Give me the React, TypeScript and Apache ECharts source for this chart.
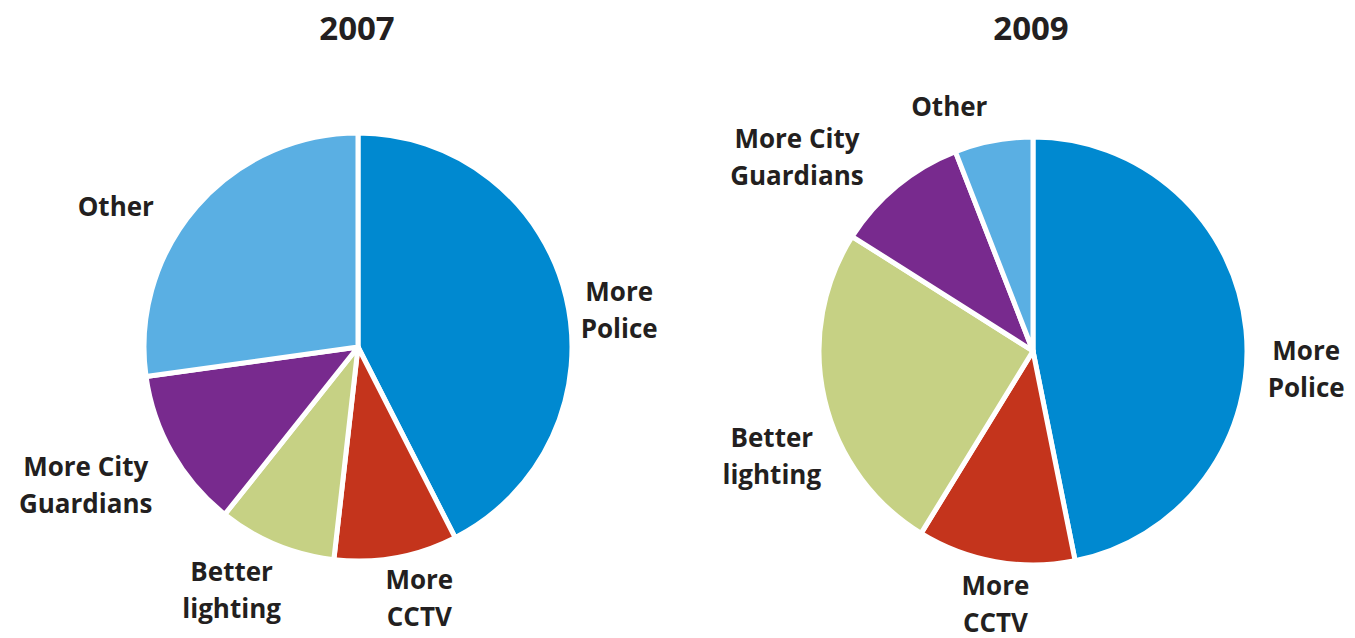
import React, { useEffect, useRef } from "react";
import * as echarts from "echarts";

const categories = ["More\nPolice", "More\nCCTV", "Better\nlighting", "More City\nGuardians", "Other"];
const colors = ["#0089d0", "#c4341c", "#c6d184", "#782a8e", "#5aafe3"];
const values2007 = [42.5, 9.3, 8.9, 12.1, 27.2];
const values2009 = [46.8, 11.9, 25.2, 10.1, 5.9];
const years = ["2007", "2009"];

// layout (pixels)
const centers = [[358, 347], [1033, 351]];
const radius = 214;
const labelNudge2007 = [[4, 24], [15, -8], [-21, 0], [-18, 7], [-43, 20]];
const labelNudge2009 = [[10, 44], [8, -6], [7, 45], [-50, 9], [-35, -5]];

const FONT = "'Open Sans', Lato, 'DejaVu Sans', sans-serif";
const TEXT = "#231f20";

function midAngles(vals: number[]) {
  const total = vals.reduce((a, b) => a + b, 0);
  let acc = 0;
  return vals.map((v) => {
    const a = ((acc + v / 2) / total) * Math.PI * 2;
    acc += v;
    return a;
  });
}

export default function App() {
  const ref = useRef<HTMLDivElement>(null);
  useEffect(() => {
    document.body.style.margin = "0";
    const chart = echarts.init(ref.current!, undefined, { renderer: "svg" });
    const allVals = [values2007, values2009];
    const nudges = [labelNudge2007, labelNudge2009];
    const mids = allVals.map(midAngles);
    const makeSeries = (si: number) => ({
      type: "pie",
      center: centers[si],
      radius: radius,
      startAngle: 90,
      clockwise: true,
      avoidLabelOverlap: false,
      silent: true,
      itemStyle: { borderColor: "#ffffff", borderWidth: 5 },
      label: {
        show: true,
        position: "outside",
        formatter: "{b}",
        color: TEXT,
        fontFamily: FONT,
        fontWeight: "bold",
        fontSize: 26,
        lineHeight: 37,
        align: "center",
      },
      labelLine: { show: false },
      labelLayout: (p: any) => {
        const th = mids[si][p.dataIndex];
        const s = Math.sin(th);
        const c = Math.cos(th);
        const gap = 12;
        const w = p.labelRect.width;
        const h = p.labelRect.height;
        const px = centers[si][0] + (radius + gap) * s + (s * w) / 2 + nudges[si][p.dataIndex][0];
        const py = centers[si][1] - (radius + gap) * c - (c * h) / 2 + nudges[si][p.dataIndex][1];
        return { x: px, y: py, align: "center", verticalAlign: "middle" };
      },
      data: categories.map((name, i) => ({ name, value: allVals[si][i], itemStyle: { color: colors[i] } })),
    });
    chart.setOption({
      animation: false,
      backgroundColor: "#ffffff",
      title: years.map((y, i) => ({
        text: y,
        left: i === 0 ? 352 : 1026,
        top: 6,
        textAlign: "center",
        textStyle: { color: TEXT, fontFamily: FONT, fontWeight: "bold", fontSize: 33 },
      })),
      series: [makeSeries(0), makeSeries(1)],
    });
    return () => chart.dispose();
  }, []);
  return <div ref={ref} style={{ width: 1355, height: 638 }} />;
}
